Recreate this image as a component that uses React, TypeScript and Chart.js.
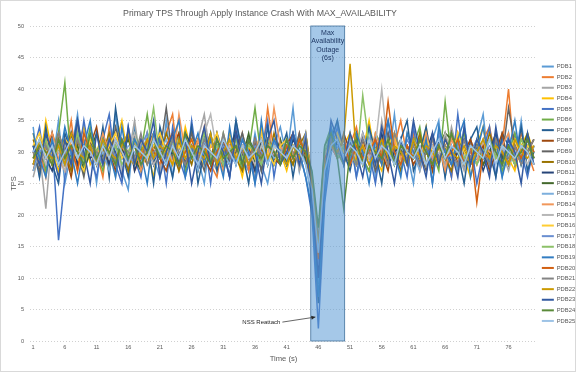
import React, { useEffect, useRef } from "react";
import { Chart, registerables } from "chart.js";

Chart.register(...registerables);

const FONT = '"Liberation Sans", Arial, sans-serif';

const TITLE = "Primary TPS Through Apply Instance Crash With MAX_AVAILABILITY";
const X_TITLE = "Time (s)";
const Y_TITLE = "TPS";
const TIME_LABELS = Array.from({ length: 80 }, (_, i) => String(i + 1));
const Y_MIN = 0;
const Y_MAX = 50;
const Y_STEP = 5;

const SERIES_NAMES = [
  "PDB1", "PDB2", "PDB3", "PDB4", "PDB5", "PDB6", "PDB7", "PDB8", "PDB9", "PDB10",
  "PDB11", "PDB12", "PDB13", "PDB14", "PDB15", "PDB16", "PDB17", "PDB18", "PDB19", "PDB20",
  "PDB21", "PDB22", "PDB23", "PDB24", "PDB25",
];

const SERIES_COLORS = [
  "#5B9BD5", "#ED7D31", "#A5A5A5", "#FFC000", "#4472C4", "#70AD47",
  "#255E91", "#9E480E", "#636363", "#997300", "#264478", "#43682B",
  "#7CAFDD", "#F1975A", "#B7B7B7", "#FFCD33", "#698ED0", "#8CC168",
  "#327DC2", "#D26012", "#848484", "#CC9A00", "#335AA1", "#5A8A39",
  "#9DC3E6",
];

const PDB1 = [34,26,31,28,35,25,30,36,27,32, 25,33,29,36,27,24,34,27,31,29, 26,35,26,32,27,34,29,25,33,28, 31,26,35,29,27,33,28,25,31,34, 29,37,27,32,21,9,27,31,35,28, 33,26,30,34,26,32,28,36,27,30, 25,33,28,32,35,26,31,27,34,28, 32,36,27,31,26,33,28,35,27,31];
const PDB2 = [28,31,26,33,30,29,35,27,32,29, 30,26,34,28,31,33,27,29,32,30, 28,33,36,27,30,31,29,34,28,26, 32,30,29,33,27,31,28,37,30,29, 31,28,33,29,24,12,29,33,30,28, 31,34,29,27,32,30,28,31,35,29, 33,27,30,32,28,31,26,33,29,30, 28,32,34,29,31,40,28,33,30,27];
const PDB3 = [26,30,21,33,28,31,27,34,29,32, 30,28,33,26,31,29,35,28,30,32, 27,31,29,33,30,28,32,36,29,27, 31,30,28,33,29,26,32,30,28,31, 29,33,27,30,23,14,26,30,32,29, 31,28,33,30,27,35,29,31,28,33, 30,27,32,29,31,28,34,30,27,32, 29,31,28,33,30,27,31,29,32,28];
const PDB4 = [33,28,35,30,27,32,29,31,34,28, 30,33,27,31,35,29,28,32,30,26, 33,29,31,28,34,30,27,32,29,31, 28,33,30,26,31,29,34,28,32,30, 27,31,29,33,25,13,30,32,29,31, 33,28,30,35,29,27,31,33,30,28, 32,29,34,27,31,30,28,33,29,26, 31,34,28,30,32,29,27,31,33,30];
const PDB5 = [30,34,27,32,16,26,33,28,35,29, 26,32,36,28,25,34,29,26,33,28, 32,25,34,29,26,35,28,32,25,33, 30,26,34,28,32,25,30,35,26,32, 28,33,30,26,20,2,22,30,34,28, 32,26,33,30,25,32,35,28,30,26, 34,28,32,25,33,30,26,36,28,32, 25,30,34,26,32,28,33,30,26,31];
const PDB6 = [29,32,27,30,33,41,28,31,29,34, 30,27,32,29,31,28,33,30,36,29, 31,28,30,33,27,31,29,32,30,28, 33,29,31,27,30,37,29,32,28,31, 30,28,32,29,26,15,31,34,30,28, 32,30,29,27,33,31,28,30,32,29, 31,34,28,30,27,38,29,31,33,28, 30,32,29,31,27,30,33,28,31,29];
const PDB7 = [31,26,34,28,25,33,30,35,27,31, 28,34,26,37,30,26,33,28,32,25, 34,30,26,32,28,34,25,30,33,27, 32,28,35,30,25,32,27,34,28,30, 33,26,32,30,22,6,24,32,35,30, 27,32,28,34,30,25,33,28,32,35, 27,30,34,28,32,26,33,30,25,32, 34,28,30,26,33,31,28,34,27,30];
const PDB8 = [27,31,29,33,28,30,26,32,29,31, 34,28,30,27,32,29,31,28,33,30, 29,27,31,33,28,30,32,29,27,31, 30,28,33,29,31,27,30,32,29,28, 31,33,29,30,24,16,28,31,29,33, 30,28,32,29,31,30,27,33,29,31, 28,30,32,27,31,29,33,28,30,32, 29,31,27,30,33,28,31,29,30,32];
const PDB9 = [30,27,32,29,31,28,33,30,26,32, 29,31,28,34,30,27,32,29,31,28, 30,37,29,31,28,33,30,27,32,29, 31,28,30,33,29,31,27,32,30,28, 31,29,33,28,25,14,29,31,33,30, 28,32,29,31,27,30,33,29,31,28, 32,30,27,31,29,33,28,30,32,29, 31,28,30,33,29,37,31,28,30,32];
const PDB10 = [32,29,31,28,33,30,27,32,29,31, 28,30,33,29,31,27,32,30,28,31, 29,33,30,27,31,28,32,30,29,33, 28,31,29,27,32,30,31,28,33,29, 30,28,31,33,26,17,30,32,29,31, 28,33,30,29,31,28,32,30,27,31, 29,33,28,30,31,29,27,32,30,28, 31,29,33,30,28,31,29,32,30,28];
const PDB11 = [28,31,29,27,32,30,33,28,31,29, 30,32,28,31,29,33,27,30,32,28, 31,29,30,28,33,31,27,30,32,29, 28,31,33,29,30,27,32,29,31,30, 28,32,30,29,24,11,26,33,31,29, 30,28,32,31,29,33,28,30,31,29, 32,28,30,33,29,31,28,30,32,29, 31,27,30,33,28,31,29,30,32,29];
const PDB12 = [31,29,33,28,30,32,29,31,27,30, 33,29,31,28,30,32,29,27,31,33, 30,28,32,29,31,30,28,33,29,31, 27,30,32,29,33,28,31,30,29,32, 28,31,30,29,23,15,27,30,32,31, 29,33,28,31,30,29,32,28,30,31, 29,32,30,28,31,33,32,32,30,29, 31,28,30,32,29,31,28,30,33,29];
const PDB13 = [27,30,32,29,31,28,30,33,29,31, 28,30,27,32,29,31,30,28,33,29, 30,32,28,31,29,30,27,32,29,31, 30,28,32,29,31,30,28,31,29,30, 32,29,31,28,22,13,25,30,31,29, 32,30,28,31,29,30,32,28,31,29, 30,27,32,29,31,30,28,32,29,31, 28,30,32,29,31,28,30,29,31,30];
const PDB14 = [30,28,31,33,29,27,32,30,28,31, 29,33,30,28,31,29,32,27,30,33, 29,31,28,36,30,29,32,28,31,30, 27,32,29,31,28,30,33,29,37,31, 29,30,28,32,25,16,30,31,29,32, 30,28,31,29,33,30,28,32,29,31, 30,28,33,29,31,27,32,30,29,31, 28,32,30,29,31,33,28,30,32,29];
const PDB15 = [29,31,28,32,30,27,31,29,33,30, 28,32,29,31,27,30,33,29,31,28, 30,29,32,28,31,30,29,33,36,30, 28,31,29,32,30,28,31,29,32,30, 29,31,28,32,26,17,29,32,30,31, 28,30,33,29,31,40,30,28,31,29, 32,30,28,31,29,33,30,28,31,30, 29,32,28,30,31,29,32,30,28,31];
const PDB16 = [31,33,29,30,28,32,31,29,27,32, 30,28,31,33,29,30,28,32,29,31, 33,30,28,31,29,32,30,28,31,33, 29,30,32,28,31,29,33,30,28,31, 32,29,30,31,24,14,28,31,33,30, 29,31,28,32,30,29,31,33,28,30, 31,29,32,30,28,31,29,33,30,28, 32,30,29,31,28,30,32,29,31,30];
const PDB17 = [28,30,31,29,32,28,30,33,29,31, 30,28,32,29,31,30,28,31,33,29, 30,28,32,30,29,31,28,30,32,29, 31,30,28,32,29,31,30,28,32,29, 30,31,29,33,23,12,27,31,30,32, 29,31,30,28,32,29,31,30,28,32, 30,29,31,28,33,30,29,31,28,30, 32,29,31,30,28,32,29,31,30,29];
const PDB18 = [30,29,32,28,31,30,29,33,28,31, 30,32,29,31,28,30,32,29,31,37, 29,30,32,28,31,29,30,33,29,31, 28,30,32,29,31,30,28,32,30,29, 31,29,32,30,25,15,30,33,29,31, 30,28,39,31,29,30,32,28,31,30, 29,32,30,28,31,29,33,30,29,31, 28,30,32,29,31,30,28,32,30,29];
const PDB19 = [33,29,26,32,28,34,30,25,31,35, 28,32,30,26,34,28,32,30,25,33, 30,28,32,35,26,30,33,28,32,30, 26,34,28,32,30,25,35,28,32,30, 28,33,30,26,21,7,23,34,30,32, 28,33,30,25,32,28,35,30,26,33, 30,28,32,25,34,30,28,32,35,26, 30,34,28,32,26,30,35,28,32,30];
const PDB20 = [29,31,30,28,32,29,31,27,33,30, 28,31,29,32,30,28,31,29,32,30, 29,31,33,28,30,32,29,31,28,30, 32,29,31,30,28,32,29,31,30,28, 31,29,32,30,24,13,29,31,30,32, 28,31,29,30,32,29,38,30,28,31, 29,32,30,28,31,29,30,32,28,31, 22,30,29,32,30,28,31,29,32,30];
const PDB21 = [30,28,31,29,33,30,28,32,29,31, 30,29,32,28,31,30,29,33,28,30, 31,29,32,30,28,31,29,32,30,28, 33,29,31,30,28,32,29,31,30,29, 32,30,28,31,26,16,28,32,30,29, 31,28,32,30,29,31,28,33,30,29, 31,28,30,32,29,31,30,28,32,29, 31,30,28,32,30,29,31,28,30,32];
const PDB22 = [28,32,30,29,31,28,33,30,29,31, 28,32,30,29,31,33,28,30,32,29, 31,30,28,32,29,31,30,29,33,28, 30,32,29,31,28,30,32,29,31,30, 28,31,29,32,25,15,28,31,30,32, 44,29,31,28,30,32,29,31,30,28, 32,29,31,30,28,32,30,29,31,28, 30,32,29,31,30,28,32,30,29,31];
const PDB23 = [31,28,33,30,26,32,28,35,30,25, 33,28,32,30,26,34,28,32,30,35, 26,30,33,28,32,25,30,34,28,32, 30,26,33,28,32,30,25,32,35,28, 30,33,28,32,22,10,26,35,32,28, 33,30,26,32,28,34,30,25,32,28, 35,30,26,33,28,32,30,26,34,28, 32,30,26,34,28,32,30,25,33,28];
const PDB24 = [29,31,30,28,32,29,31,30,28,33, 29,31,30,28,32,29,31,28,30,32, 29,31,30,28,33,29,31,30,28,32, 29,30,31,28,32,30,29,31,30,28, 32,29,31,30,27,18,31,33,29,21, 30,32,28,31,30,29,32,28,31,30, 29,32,30,28,31,29,33,30,28,31, 30,29,32,30,28,31,29,30,32,29];
const PDB25 = [30,32,29,31,28,30,32,29,31,30, 28,31,29,32,30,28,31,30,29,32, 30,28,31,29,32,30,28,31,30,29, 32,30,28,31,29,30,32,28,31,30, 29,31,30,28,24,14,27,31,32,29, 31,30,28,32,29,31,30,28,32,30, 29,31,28,30,32,29,31,30,28,31, 30,29,32,28,31,30,29,31,30,28];

const SERIES_VALUES = [
  PDB1, PDB2, PDB3, PDB4, PDB5, PDB6, PDB7, PDB8, PDB9, PDB10,
  PDB11, PDB12, PDB13, PDB14, PDB15, PDB16, PDB17, PDB18, PDB19, PDB20,
  PDB21, PDB22, PDB23, PDB24, PDB25,
];

// Outage window, in category-index units (index 0 = second 1)
const OUTAGE_FROM = 43.8;
const OUTAGE_TO = 49.15;
const OUTAGE_TEXT = ["Max", "Availability", "Outage", "(6s)"];
const NSS_INDEX = 45;
const NSS_VALUE = 2;
const NSS_TEXT = "NSS Reattach";

const outagePlugin = {
  id: "outage",
  afterDatasetsDraw(chart: any) {
    const { ctx, chartArea, scales } = chart;
    const x = scales.x;
    const y = scales.y;
    const x0 = x.getPixelForValue(OUTAGE_FROM);
    const x1 = x.getPixelForValue(OUTAGE_TO);
    ctx.save();
    ctx.fillStyle = "rgba(91,155,213,0.55)";
    ctx.fillRect(x0, chartArea.top, x1 - x0, chartArea.bottom - chartArea.top);
    ctx.strokeStyle = "#41719C";
    ctx.lineWidth = 0.8;
    ctx.strokeRect(x0, chartArea.top, x1 - x0, chartArea.bottom - chartArea.top);
    ctx.fillStyle = "#1F3864";
    ctx.font = "7px " + FONT;
    ctx.textAlign = "center";
    ctx.textBaseline = "middle";
    const cx = (x0 + x1) / 2;
    OUTAGE_TEXT.forEach((t, i) => {
      ctx.fillText(t, cx, chartArea.top + 7 + i * 8.4);
    });

    // NSS Reattach annotation
    const tipX = x.getPixelForValue(NSS_INDEX);
    const endX = tipX - 3;
    const endY = y.getPixelForValue(NSS_VALUE + 1.8);
    const startX = tipX - 36;
    const startY = y.getPixelForValue(NSS_VALUE + 1);
    ctx.strokeStyle = "#404040";
    ctx.lineWidth = 0.8;
    ctx.beginPath();
    ctx.moveTo(startX, startY);
    ctx.lineTo(endX, endY);
    ctx.stroke();
    const ang = Math.atan2(endY - startY, endX - startX);
    ctx.fillStyle = "#262626";
    ctx.beginPath();
    ctx.moveTo(endX, endY);
    ctx.lineTo(endX - 4 * Math.cos(ang) + 2 * Math.sin(ang), endY - 4 * Math.sin(ang) - 2 * Math.cos(ang));
    ctx.lineTo(endX - 4 * Math.cos(ang) - 2 * Math.sin(ang), endY - 4 * Math.sin(ang) + 2 * Math.cos(ang));
    ctx.closePath();
    ctx.fill();
    ctx.fillStyle = "#262626";
    ctx.font = "6px " + FONT;
    ctx.textAlign = "right";
    ctx.fillText(NSS_TEXT, startX - 2, startY);
    ctx.restore();
  },
};

const framePlugin = {
  id: "frame",
  beforeDraw(chart: any) {
    const { ctx, width, height } = chart;
    ctx.save();
    ctx.fillStyle = "#ffffff";
    ctx.fillRect(0, 0, width, height);
    ctx.restore();
  },
  afterDraw(chart: any) {
    const { ctx, width, height } = chart;
    ctx.save();
    ctx.strokeStyle = "#d9d9d9";
    ctx.lineWidth = 1;
    ctx.strokeRect(0.5, 0.5, width - 1, height - 1);
    ctx.restore();
  },
  afterLayout(chart: any) {
    const t = chart.titleBlock;
    if (t) {
      t.right = t.left + 520;
    }
  },
};

export default function App() {
  const ref = useRef<HTMLCanvasElement | null>(null);
  useEffect(() => {
    if (!ref.current) return;
    const datasets = SERIES_NAMES.map((name, i) => ({
      label: name,
      data: SERIES_VALUES[i],
      borderColor: SERIES_COLORS[i],
      backgroundColor: SERIES_COLORS[i],
      borderWidth: 1.5,
      pointRadius: 0,
      tension: 0,
      order: SERIES_NAMES.length - i,
    }));
    const chart = new Chart(ref.current, {
      type: "line",
      data: { labels: TIME_LABELS, datasets },
      plugins: [framePlugin, outagePlugin],
      options: {
        animation: false,
        responsive: false,
        layout: { padding: { left: 0, right: -9.1, top: 0, bottom: 8 } },
        plugins: {
          tooltip: { enabled: false },
          title: {
            display: true,
            text: TITLE,
            color: "#595959",
            font: { family: FONT, size: 8.8, weight: "normal" },
            padding: { top: 8, bottom: 7.44 },
          },
          legend: {
            position: "right",
            align: "center",
            title: {
              display: true,
              text: " ",
              font: { family: FONT, size: 10 },
              padding: { top: 5.75, bottom: 5.75 },
            },
            labels: {
              boxWidth: 12,
              boxHeight: 2,
              padding: 4.8,
              color: "#595959",
              font: { family: FONT, size: 5.8 },
              sort: (a: any, b: any) => a.datasetIndex - b.datasetIndex,
              generateLabels: (c: any) =>
                Chart.defaults.plugins.legend.labels
                  .generateLabels(c)
                  .map((it: any) => ({ ...it, lineWidth: 0 })),
            },
          },
        },
        scales: {
          x: {
            type: "category",
            offset: true,
            afterFit: (s: any) => {
              s.height = 23;
            },
            grid: { display: false, drawTicks: false },
            border: { display: false },
            ticks: {
              autoSkip: false,
              maxRotation: 0,
              padding: 3,
              color: "#595959",
              font: { family: FONT, size: 5.6 },
              callback: (_v: any, idx: number) => (idx % 5 === 0 ? TIME_LABELS[idx] : ""),
            },
            title: {
              display: true,
              text: X_TITLE,
              color: "#595959",
              font: { family: FONT, size: 7.6 },
              padding: { top: 0, bottom: 0.4 },
            },
          },
          y: {
            min: Y_MIN,
            max: Y_MAX,
            afterFit: (s: any) => {
              s.width = 30;
            },
            grid: { color: "#d0d0d0", lineWidth: 1, drawTicks: false },
            border: { display: false, dash: [1, 2] },
            ticks: {
              stepSize: Y_STEP,
              padding: 6,
              color: "#595959",
              font: { family: FONT, size: 5.6 },
            },
            title: {
              display: true,
              text: Y_TITLE,
              color: "#595959",
              font: { family: FONT, size: 7.5 },
              padding: { top: 9.5, bottom: 0 },
            },
          },
        },
      },
    });
    return () => chart.destroy();
  }, []);
  return (
    <div style={{ position: "fixed", left: 0, top: 0, width: 576, height: 372 }}>
      <canvas ref={ref} width={576} height={372} style={{ width: 576, height: 372 }} />
    </div>
  );
}
